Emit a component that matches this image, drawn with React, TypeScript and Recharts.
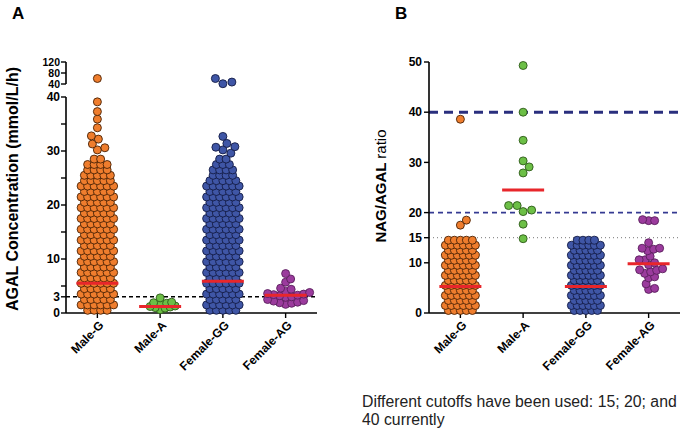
import React from 'react';
import { ReferenceLine, Scatter, ScatterChart, XAxis, YAxis } from 'recharts';

const groups = ['Male-G', 'Male-A', 'Female-GG', 'Female-AG'];
const fills = ['#ef7d2d', '#6cbf46', '#3f56a6', '#9b3b9d'];
const outlines = ['#4a2306', '#2f5a1a', '#141c45', '#5a1f5c'];

// Panel A: AGAL concentration (mmol/L/h). Dense bodies are given as rows (value, how many dots).
const agalRows = [
  0.5, 1.5, 2.5, 3.5, 4.5, 5.5, 6.5, 7.5, 8.5, 9.5, 10.5, 11.5, 12.5, 13.5, 14.5,
  15.5, 16.5, 17.5, 18.5, 19.5, 20.5, 21.5, 22.5, 23.5, 24.5, 25.5, 26.5, 27.5, 28.5,
];
const agalMaleGCounts = [4, 6, 5, 6, 5, 6, 5, 6, 5, 6, 5, 6, 5, 6, 5, 6, 5, 6, 5, 6, 5, 6, 5, 6, 5, 5, 4, 4, 2];
const agalFemaleGGCounts = [5, 6, 5, 6, 5, 6, 5, 6, 5, 6, 5, 6, 5, 6, 5, 6, 5, 6, 5, 6, 5, 6, 5, 6, 5, 4, 4, 3, 2];
const agalMaleGExtra = [30.2, 30.6, 31.3, 32.2, 32.8, 34.3, 35.9, 37.3, 39.1];
const agalFemaleGGExtra = [29.6, 30.2, 30.7, 30.8, 31.4, 32.7];
const agalMaleA = [0.6, 0.9, 1.0, 1.1, 1.2, 1.3, 1.8, 1.8, 1.9, 2.0, 2.8];
const agalFemaleAG = [7.3, 6.3, 5.7, 4.6, 4.4, 4.0, 3.8, 3.6, 3.5, 3.4, 3.3, 3.2, 3.0, 2.9, 2.5, 2.3, 2.2, 2.0, 1.9, 1.8, 1.6];
const agalHighMaleG = [60];
const agalHighFemaleGG = [41, 47, 60];
const agalMedians = [5.5, 1.2, 5.9, 3.3];
const agalTicks = [0, 3, 5, 10, 15, 20, 25, 30, 35, 40];
const agalTickLabels = [0, 3, 10, 20, 30, 40];
const agalHighTicks = [40, 80, 120];
const agalCutoff = 3;

// Panel B: NAG/AGAL ratio
const ratioRows = [0.5, 1.5, 2.5, 3.5, 4.5, 5.5, 6.5, 7.5, 8.5, 9.5, 10.5, 11.5, 12.5, 13.5, 14.5];
const ratioMaleGCounts = [5, 6, 5, 6, 5, 6, 5, 6, 5, 6, 5, 6, 5, 6, 5];
const ratioFemaleGGCounts = [5, 6, 5, 6, 5, 6, 5, 6, 5, 6, 5, 6, 5, 6, 4];
const ratioMaleGExtra = [17.5, 18.5, 38.6];
const ratioMaleA = [49.3, 40, 34.4, 30.3, 29.1, 27.9, 21.4, 21.4, 20.2, 20.5, 17.7, 14.8];
const ratioFemaleAG = [18.4, 18.4, 18.6, 14.0, 12.9, 12.7, 12.9, 12.4, 11.3, 10.6, 10.6, 10.0, 9.6, 8.8, 8.6, 8.5, 8.2, 7.9, 7.2, 7.0, 5.8, 4.9, 4.7];
const ratioMedians = [5.3, 24.5, 5.3, 9.8];
const ratioTicks = [0, 10, 15, 20, 30, 40, 50];

const FONT = '"Liberation Sans", Arial, sans-serif';
const DOT_R = 4;

// plot frames (px)
const A_LEFT = 66;
const B_LEFT = 429;
const PLOT_W = 251;
const PX_PER_CAT = PLOT_W / 4;

type Pt = { x: number; y: number };

// rows are spread symmetrically, loose values are packed next to what is already placed
function swarm(
  center: number,
  rows: number[],
  counts: number[],
  loose: number[],
  spacing: number,
  pxPerUnit: number,
  gap = 7.5,
): Pt[] {
  const placed: { dx: number; v: number }[] = [];
  rows.forEach((v, r) => {
    const n = counts[r] ?? 0;
    for (let i = 0; i < n; i++) placed.push({ dx: (i - (n - 1) / 2) * spacing, v });
  });
  [...loose].sort((a, b) => a - b).forEach((v) => {
    for (let k = 0; k < 400; k++) {
      const dx = (k % 2 ? 1 : -1) * Math.ceil(k / 2) * 0.5;
      if (placed.every((p) => Math.hypot(p.dx - dx, (p.v - v) * pxPerUnit) >= gap)) {
        placed.push({ dx, v });
        return;
      }
    }
  });
  return placed.map((p) => ({ x: center + p.dx / PX_PER_CAT, y: p.v }));
}

const dot = (i: number) => (p: any) => (
  <circle cx={p.cx} cy={p.cy} r={DOT_R} fill={fills[i]} stroke={outlines[i]} strokeWidth={0.9} />
);
const medianBar = (p: any) => (
  <line x1={p.cx - 21} x2={p.cx + 21} y1={p.cy} y2={p.cy} stroke="#e8262b" strokeWidth={3} />
);

// slanted category name, right end just below the tick
const categoryTick = (p: any) => {
  const label = groups[Math.round(p.payload.value) - 1] ?? '';
  return (
    <g transform={`translate(${p.x + 7},${p.y + 6})`}>
      <text x={0} y={0} transform="rotate(-45)" textAnchor="end" fontSize={12} fontWeight={700} fill="#000" fontFamily={FONT}>
        {label}
      </text>
    </g>
  );
};

const axisLine = { stroke: '#000', strokeWidth: 1.6 };
const tickLine = { stroke: '#000', strokeWidth: 1.4 };
const tickStyle = { fill: '#000', fontSize: 12, fontWeight: 700, fontFamily: FONT };

const A_LOW = 216 / 40;
const A_HIGH = 22 / 80;
const B_UNIT = 251 / 50;

const aLow = [
  swarm(1, agalRows, agalMaleGCounts, agalMaleGExtra, 6.5, A_LOW),
  swarm(2, [], [], agalMaleA, 6.5, A_LOW, 5),
  swarm(3, agalRows, agalFemaleGGCounts, agalFemaleGGExtra, 6.5, A_LOW),
  swarm(4, [], [], agalFemaleAG, 6.5, A_LOW, 5.8),
];
const aHigh = [swarm(1, [], [], agalHighMaleG, 6.5, A_HIGH), swarm(3, [], [], agalHighFemaleGG, 6.5, A_HIGH, 9)];
const bPts = [
  swarm(1, ratioRows, ratioMaleGCounts, ratioMaleGExtra, 6, B_UNIT),
  swarm(2, [], [], ratioMaleA, 6, B_UNIT, 8.5),
  swarm(3, ratioRows, ratioFemaleGGCounts, [], 5.8, B_UNIT),
  swarm(4, [], [], ratioFemaleAG, 6, B_UNIT, 6),
];

const vLabel = (text: React.ReactNode, cx: number, cy: number, size: number) => (
  <div
    style={{
      position: 'absolute',
      left: cx - 150,
      top: cy - 10,
      width: 300,
      height: 20,
      lineHeight: '20px',
      textAlign: 'center',
      transform: 'rotate(-90deg)',
      fontSize: size,
      fontWeight: 700,
      whiteSpace: 'nowrap',
    }}
  >
    {text}
  </div>
);

const categoryAxis = (
  <XAxis
    type="number"
    dataKey="x"
    domain={[0.5, 4.5]}
    ticks={[1, 2, 3, 4]}
    interval={0}
    allowDataOverflow
    height={40}
    axisLine={axisLine}
    tickLine={tickLine}
    tickSize={5}
    tick={categoryTick}
  />
);

export default function App() {
  return (
    <div style={{ position: 'absolute', left: 0, top: 0, width: 685, height: 434, background: '#fff', fontFamily: FONT, color: '#000' }}>
      <div style={{ position: 'absolute', left: 12, top: 4, fontSize: 17, fontWeight: 700 }}>A</div>
      <div style={{ position: 'absolute', left: 395, top: 4, fontSize: 17, fontWeight: 700 }}>B</div>
      {vLabel('AGAL Concentration (mmol/L/h)', 13, 189, 16)}
      {vLabel(
        <>
          NAG/AGAL <span style={{ fontWeight: 400 }}>ratio</span>
        </>,
        381,
        186,
        15,
      )}

      <div style={{ position: 'absolute', left: 0, top: 0 }}>
        <ScatterChart width={A_LEFT + PLOT_W + 13} height={434} margin={{ top: 97, right: 13, bottom: 81, left: 0 }}>
          {categoryAxis}
          <YAxis
            type="number"
            dataKey="y"
            domain={[0, 40]}
            ticks={agalTicks}
            interval={0}
            width={A_LEFT}
            axisLine={axisLine}
            tickLine={tickLine}
            tickSize={5}
            tickMargin={1}
            tick={tickStyle}
            tickFormatter={(v: number) => (agalTickLabels.includes(v) ? String(v) : '')}
          />
          <ReferenceLine y={agalCutoff} stroke="#000" strokeWidth={1.6} strokeDasharray="4 3" />
          {aLow.map((pts, i) => (
            <Scatter key={groups[i]} data={pts} shape={dot(i)} isAnimationActive={false} />
          ))}
          <Scatter data={agalMedians.map((m, i) => ({ x: i + 1, y: m }))} shape={medianBar} isAnimationActive={false} />
        </ScatterChart>
      </div>

      <div style={{ position: 'absolute', left: 0, top: 50 }}>
        <ScatterChart width={A_LEFT + PLOT_W + 13} height={50} margin={{ top: 12, right: 13, bottom: 16, left: 0 }}>
          <XAxis type="number" dataKey="x" domain={[0.5, 4.5]} hide />
          <YAxis
            type="number"
            dataKey="y"
            domain={[40, 120]}
            ticks={agalHighTicks}
            interval={0}
            width={A_LEFT}
            axisLine={axisLine}
            tickLine={tickLine}
            tickSize={5}
            tickMargin={1}
            tick={{ ...tickStyle, fontSize: 10.5 }}
          />
          <Scatter data={aHigh[0]} shape={dot(0)} isAnimationActive={false} />
          <Scatter data={aHigh[1]} shape={dot(2)} isAnimationActive={false} />
        </ScatterChart>
      </div>

      <div style={{ position: 'absolute', left: 340, top: 0 }}>
        <ScatterChart width={B_LEFT - 340 + PLOT_W + 5} height={434} margin={{ top: 62, right: 5, bottom: 81, left: 0 }}>
          {categoryAxis}
          <YAxis
            type="number"
            dataKey="y"
            domain={[0, 50]}
            ticks={ratioTicks}
            interval={0}
            width={B_LEFT - 340}
            axisLine={axisLine}
            tickLine={tickLine}
            tickSize={5}
            tickMargin={2}
            tick={tickStyle}
          />
          <ReferenceLine y={40} stroke="#2a2f7e" strokeWidth={3} strokeDasharray="9 6" />
          <ReferenceLine y={20} stroke="#353a92" strokeWidth={1.6} strokeDasharray="5 4" />
          <ReferenceLine y={15} stroke="#777" strokeWidth={1} strokeDasharray="1 3" />
          {bPts.map((pts, i) => (
            <Scatter key={groups[i]} data={pts} shape={dot(i)} isAnimationActive={false} />
          ))}
          <Scatter data={ratioMedians.map((m, i) => ({ x: i + 1, y: m }))} shape={medianBar} isAnimationActive={false} />
        </ScatterChart>
      </div>

      <div style={{ position: 'absolute', left: 362, top: 393, fontSize: 15.8, lineHeight: '18px', color: '#222', width: 330, whiteSpace: 'nowrap' }}>
        Different cutoffs have been used: 15; 20; and
        <br />
        40 currently
      </div>
    </div>
  );
}
